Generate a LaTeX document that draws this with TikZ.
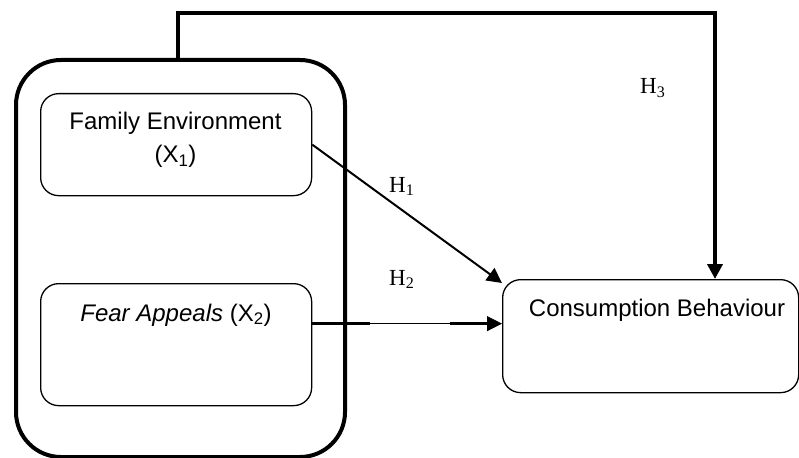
\documentclass[tikz,border=0pt]{standalone}
\usepackage{fontspec}
\setmainfont{Liberation Sans}
\newfontfamily\hfont{Liberation Serif}
\usetikzlibrary{arrows.meta,calc}
\begin{document}
\begin{tikzpicture}[x=1pt,y=-1pt,
  varbox/.style={draw, line width=1.3pt, rounded corners=18pt, inner sep=0pt, anchor=north west},
  txt/.style={anchor=base, inner sep=0pt, font=\fontsize{24}{28}\selectfont},
  hyp/.style={anchor=base west, inner sep=0pt, font=\hfont\fontsize{23}{27}\selectfont},
  tip/.style={-{Triangle[length=15pt,width=15pt]}}]
\useasboundingbox (0,0) rectangle (799,457);
% outer group
\node[draw, line width=4pt, rounded corners=45pt, minimum width=329pt, minimum height=397pt, inner sep=0pt, anchor=north west] (outer) at (14,58) {};
% variable boxes
\node[varbox, minimum width=271pt, minimum height=102pt] (fam) at (40,93) {};
\node[varbox, minimum width=271pt, minimum height=122pt] (fear) at (40,283) {};
\node[varbox, minimum width=296pt, minimum height=113pt] (cons) at (502,279) {};
% texts
\node[txt] (famt1) at (175.5,130) {Family Environment};
\node[txt] (famt2) at (175.5,163) {(X\textsubscript{1})};
\node[txt] (feart) at (176,321) {\textit{Fear Appeals} (X\textsubscript{2})};
\node[txt] (const) at (657,316) {Consumption Behaviour};
% hypothesis labels
\node[hyp] (h1) at (389,192) {H\textsubscript{1}};
\node[hyp] (h2) at (389,285) {H\textsubscript{2}};
\node[hyp] (h3) at (640,94) {H\textsubscript{3}};
% connectors
\coordinate (h3top) at (715,13);
\draw[tip, line width=4.5pt] ([xshift=-2.5pt]outer.north) |- (h3top) -- (h3top |- cons.north);
\draw[tip, line width=2pt] (fam.east) -- ($(cons.north west)+(0,4)$);
\coordinate (h2s) at ($(fear.east)+(0,-21)$);
\coordinate (h2a) at (370,0);
\coordinate (h2b) at (450,0);
\draw[tip, line width=0.8pt] (h2s) -- (h2s -| cons.west);
\draw[line width=2.5pt] (h2s) -- (h2s -| h2a);
\draw[line width=2.5pt] (h2s -| h2b) -- ($(h2s -| cons.west)+(-14,0)$);
\end{tikzpicture}
\end{document}
